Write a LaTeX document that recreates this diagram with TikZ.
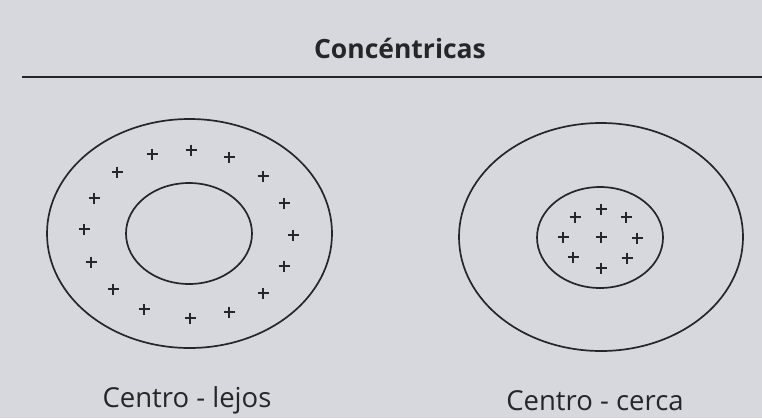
\documentclass[tikz,border=0pt]{standalone}
\usepackage{fontspec}
\setmainfont{Open Sans}
\definecolor{paper}{RGB}{214,216,221}
\definecolor{ink}{RGB}{38,38,42}
\begin{document}
\begin{tikzpicture}[x=1pt,y=-1pt,
  ring/.style={draw=ink,line width=1.7pt},
  plussign/.pic={\draw[ink,line width=1.9pt] (-5.5,0)--(5.5,0) (0,-5.5)--(0,5.5);},
  caption/.style={text=ink,font=\fontsize{27.5}{32}\selectfont,anchor=base},
  title/.style={text=ink,font=\bfseries\fontsize{26.5}{31}\selectfont,anchor=base}]
\fill[paper] (0,0) rectangle (762,418);
\useasboundingbox (0,0) rectangle (762,418);
% title and rule
\node[title] (t) at (400,58) {Concéntricas};
\coordinate (r1) at (22,77);
\coordinate (r2) at (762,77);
\draw[ink,line width=2.6pt] (r1) -- (r2);
% left diagram
\draw[ring] (189.5,233.5) ellipse [x radius=142.5, y radius=114.5];
\draw[ring] (189,233.5) ellipse [x radius=63, y radius=50.5];
\foreach \p in {(152,154),(191,150),(229,157),(117,172),(263,176),(94,198),(284,203),(84,229),(293,235),(91,262),(284,266),(113,289),(263,293),(144,309),(190,318),(229,312)}
  \pic at \p {plussign};
% right diagram
\draw[ring] (601,237) ellipse [x radius=142, y radius=114];
\draw[ring] (600,237.5) ellipse [x radius=63, y radius=50.5];
\foreach \p in {(575,217),(601,209),(626,217),(563,237),(601,237),(637,238),(573,257),(601,268),(627,258)}
  \pic at \p {plussign};
% captions
\node[caption] (cl) at (187,407) {Centro - lejos};
\node[caption] (cr) at (595,410) {Centro - cerca};
\end{tikzpicture}
\end{document}
